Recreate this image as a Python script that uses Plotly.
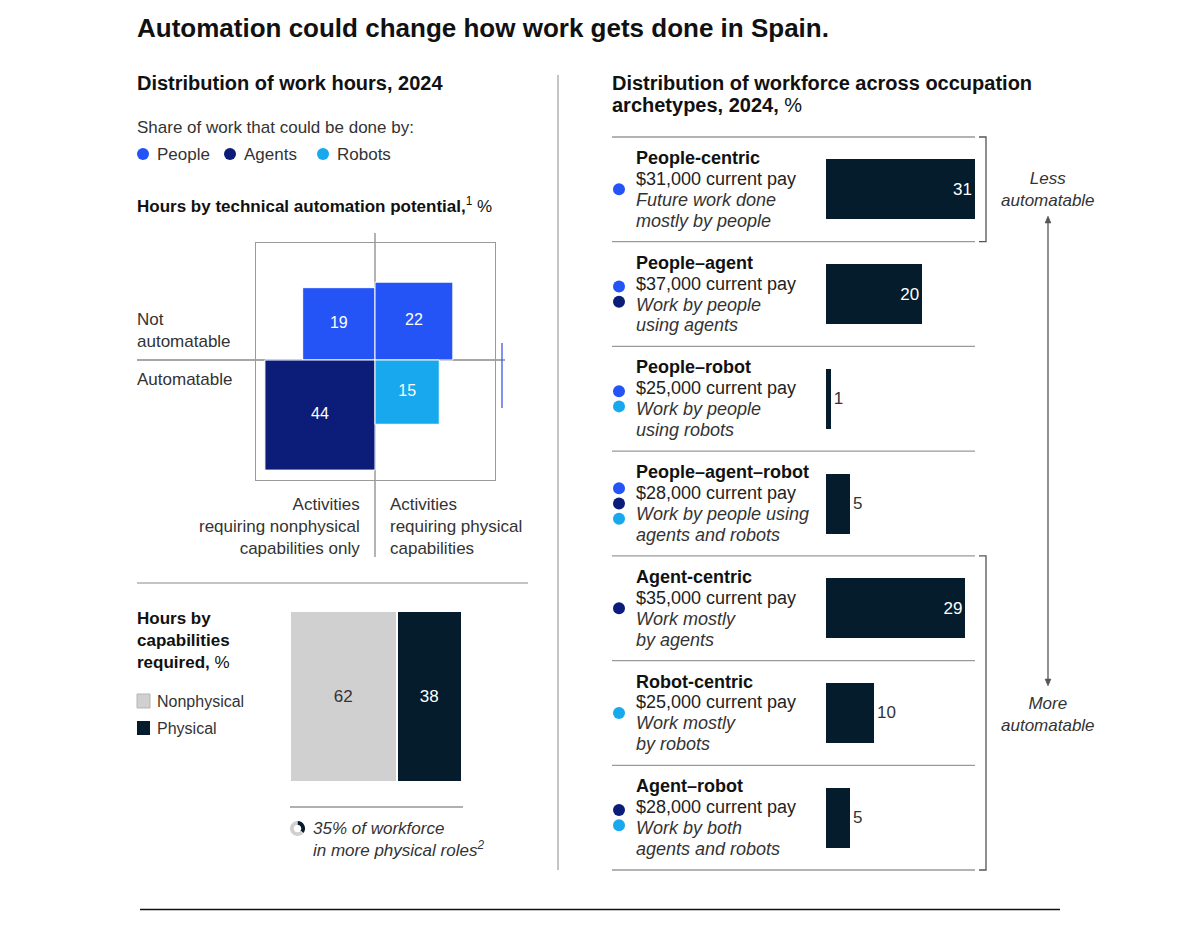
import math
import plotly.graph_objects as go

# ---- data ----
doer_colors = {"People": "#2454f5", "Agents": "#0b1d78", "Robots": "#17a8ee"}
legend_doers = ["People", "Agents", "Robots"]

# hours by technical automation potential, %
quad_values = [19, 22, 44, 15]
quad_capability = ["Nonphysical", "Physical", "Nonphysical", "Physical"]
quad_automation = ["Not automatable", "Not automatable", "Automatable", "Automatable"]
quad_doer = ["People", "People", "Agents", "Robots"]

# hours by capabilities required, %
capability_names = ["Nonphysical", "Physical"]
capability_shares = [62, 38]
physical_roles_share = 35

# workforce across occupation archetypes, %
archetypes = ["People-centric", "People–agent", "People–robot", "People–agent–robot",
              "Agent-centric", "Robot-centric", "Agent–robot"]
pay = ["$31,000", "$37,000", "$25,000", "$28,000", "$35,000", "$25,000", "$28,000"]
desc_1 = ["Future work done", "Work by people", "Work by people", "Work by people using",
          "Work mostly", "Work mostly", "Work by both"]
desc_2 = ["mostly by people", "using agents", "using robots", "agents and robots",
          "by agents", "by robots", "agents and robots"]
workforce_share = [31, 20, 1, 5, 29, 10, 5]
archetype_doers = [["People"], ["People", "Agents"], ["People", "Robots"],
                   ["People", "Agents", "Robots"], ["Agents"], ["Robots"],
                   ["Agents", "Robots"]]

# page body has an 8px margin, so the figure is sized to fit inside it
PAD = 8
W, H = 1200 - 2 * PAD, 935 - 2 * PAD
FONT = "Liberation Sans, Arial, sans-serif"
DARK = "#051c2c"
GRAY = "#d0d0d0"
LINE = "#a8a8a8"


def px(x):
    return (x - PAD) / W


def py(y):
    return 1 - (y - PAD) / H


fig = go.Figure()

# Quadrant squares: area proportional to value.
for v, cap, aut, doer in zip(quad_values, quad_capability, quad_automation, quad_doer):
    s = math.sqrt(v)
    sx = -1 if cap == "Nonphysical" else 1
    sy = 1 if aut == "Not automatable" else -1
    fig.add_trace(go.Scatter(
        x=[0, sx * s, sx * s, 0, 0], y=[0, 0, sy * s, sy * s, 0],
        fill="toself", fillcolor=doer_colors[doer], mode="lines",
        line=dict(color="white", width=1), xaxis="x", yaxis="y",
        hoverinfo="skip", showlegend=False))
    fig.add_trace(go.Scatter(
        x=[sx * s / 2], y=[sy * s / 2], mode="text", text=[str(v)],
        textfont=dict(family=FONT, size=16, color="white"),
        xaxis="x", yaxis="y", hoverinfo="skip", showlegend=False))

# Stacked bar of capabilities.
for name, share, color, tcolor in zip(capability_names, capability_shares,
                                      [GRAY, DARK], ["#333333", "white"]):
    fig.add_trace(go.Bar(
        x=[share], y=[0], orientation="h", width=1, name=name,
        marker=dict(color=color, line=dict(color="white", width=2)),
        text=[share], textposition="inside", insidetextanchor="middle",
        textfont=dict(family=FONT, size=17, color=tcolor),
        xaxis="x2", yaxis="y2", hoverinfo="skip", showlegend=False))

# Small donut icon.
fig.add_trace(go.Pie(
    values=[physical_roles_share, 100 - physical_roles_share],
    marker=dict(colors=[DARK, GRAY]), hole=0.5, sort=False,
    direction="clockwise", textinfo="none", hoverinfo="skip",
    showlegend=False, domain=dict(x=[px(290), px(305)], y=[py(836), py(821)])))

# Workforce bars.
rows = list(range(len(archetypes)))
fig.add_trace(go.Bar(
    x=workforce_share, y=rows, orientation="h", width=0.573,
    marker=dict(color=DARK, line=dict(width=0)),
    text=workforce_share,
    textposition=["inside" if v >= 15 else "outside" for v in workforce_share],
    insidetextanchor="end", cliponaxis=False,
    insidetextfont=dict(family=FONT, size=17, color="white"),
    outsidetextfont=dict(family=FONT, size=17, color="#333333"),
    xaxis="x3", yaxis="y3", hoverinfo="skip", showlegend=False))

# Doer dots per archetype.
dot_x, dot_y, dot_c = [], [], []
for i, doers in enumerate(archetype_doers):
    n = len(doers)
    for k, d in enumerate(doers):
        dot_x.append(0)
        dot_y.append(i + (k - (n - 1) / 2) * 0.145)
        dot_c.append(doer_colors[d])
fig.add_trace(go.Scatter(
    x=dot_x, y=dot_y, mode="markers", marker=dict(size=12, color=dot_c),
    xaxis="x4", yaxis="y3", hoverinfo="skip", showlegend=False))

# Row text.
for i in rows:
    lines = [("<b>%s</b>" % archetypes[i], "#111111"),
             ("%s current pay" % pay[i], "#222222"),
             ("<i>%s</i>" % desc_1[i], "#333333"),
             ("<i>%s</i>" % desc_2[i], "#333333")]
    for j, (txt, col) in enumerate(lines):
        fig.add_annotation(x=px(634), y=i + (j - 1.5) * 0.2, xref="paper", yref="y3",
                           text=txt, showarrow=False, xanchor="left", yanchor="middle",
                           font=dict(family=FONT, size=18, color=col))


def label(x, y, text, size=17, color="#333333", xanchor="left", align="left"):
    fig.add_annotation(x=px(x), y=py(y), xref="paper", yref="paper", text=text,
                       showarrow=False, xanchor=xanchor, yanchor="middle", align=align,
                       font=dict(family=FONT, size=size, color=color))


label(135, 28, "<b>Automation could change how work gets done in Spain.</b>", 26, "#111111")
label(135, 83, "<b>Distribution of work hours, 2024</b>", 20, "#111111")
label(135, 128, "Share of work that could be done by:", 17)
shapes = []
for d, x in zip(legend_doers, [143, 230, 323]):
    shapes.append(dict(type="circle", xref="paper", yref="paper", x0=px(x - 6), x1=px(x + 6),
                       y0=py(160), y1=py(148), fillcolor=doer_colors[d], line=dict(width=0)))
    label(x + 12, 154, d, 17)
label(135, 205, "<b>Hours by technical automation potential,</b><sup>1</sup> %", 17, "#111111")
label(135, 330, "Not<br>automatable", 17)
label(135, 379, "Automatable", 17)
label(362, 526, "Activities<br>requiring nonphysical<br>capabilities only", 17,
      xanchor="right", align="right")
label(388, 526, "Activities<br>requiring physical<br>capabilities", 17)
label(135, 640, "<b>Hours by<br>capabilities<br>required,</b> %", 17, "#111111")
label(155, 701, "Nonphysical", 16)
label(155, 728, "Physical", 16)
label(311, 839, "<i>%d%% of workforce<br>in more physical roles<sup>2</sup></i>"
      % physical_roles_share, 17)
label(610, 83, "<b>Distribution of workforce across occupation</b>", 20, "#111111")
label(610, 105, "<b>archetypes, 2024,</b> %", 20, "#111111")
label(1048, 190, "<i>Less<br>automatable</i>", 17, xanchor="center", align="center")
label(1048, 714, "<i>More<br>automatable</i>", 17, xanchor="center", align="center")


def hline(y, x0, x1, color=LINE, width=1.5, layer="above"):
    shapes.append(dict(type="line", xref="paper", yref="paper", x0=px(x0), x1=px(x1),
                       y0=py(y), y1=py(y), line=dict(color=color, width=width), layer=layer))


def vline(x, y0, y1, color=LINE, width=1.5, layer="above"):
    shapes.append(dict(type="line", xref="paper", yref="paper", x0=px(x), x1=px(x),
                       y0=py(y0), y1=py(y1), line=dict(color=color, width=width), layer=layer))


def tri(points, color):
    path = "M " + " L ".join("%f,%f" % (px(a), py(b)) for a, b in points) + " Z"
    shapes.append(dict(type="path", xref="paper", yref="paper", path=path,
                       fillcolor=color, line=dict(color=color, width=0.5)))


# double arrow between "Less" and "More automatable"
vline(1048, 221, 681, "#555555", 1.3)
tri([(1048, 216), (1045, 223), (1051, 223)], "#555555")
tri([(1048, 686), (1045, 679), (1051, 679)], "#555555")

# quadrant guides
vline(375, 233, 557, "#8a8a8a", 1.3, "below")
hline(360, 137, 505, "#8a8a8a", 1.3, "below")
vline(502, 343, 408, "#3b5ae0", 1.3)
# legend swatches
shapes.append(dict(type="rect", xref="paper", yref="paper", x0=px(137), x1=px(150),
                   y0=py(708), y1=py(694), fillcolor=GRAY, line=dict(color="#b5b5b5", width=1)))
shapes.append(dict(type="rect", xref="paper", yref="paper", x0=px(137), x1=px(150),
                   y0=py(735), y1=py(721), fillcolor=DARK, line=dict(width=0)))
# panel dividers
vline(558, 75, 870, "#b0b0b0", 1.5)
hline(583, 137, 528, "#b0b0b0", 1.5)
hline(807, 290, 463, "#b0b0b0", 2)
hline(909.5, 140, 1060, "#111111", 1.5)
# row separators
row_edges = [137 + (870 - 137) * k / len(archetypes) for k in range(len(archetypes) + 1)]
for y in row_edges:
    hline(y, 612, 975, "#9a9a9a", 1.3)
# brackets
for y0, y1 in [(row_edges[0], row_edges[1]), (row_edges[4], row_edges[7])]:
    shapes.append(dict(type="path", xref="paper", yref="paper",
                       path="M %f,%f L %f,%f L %f,%f L %f,%f" % (
                           px(979), py(y0), px(986), py(y0), px(986), py(y1), px(979), py(y1)),
                       line=dict(color="#555555", width=1.3)))

hidden = dict(visible=False, showgrid=False, zeroline=False, fixedrange=True)
fig.update_layout(
    width=W, height=H, margin=dict(l=0, r=0, t=0, b=0),
    paper_bgcolor="white", plot_bgcolor="rgba(0,0,0,0)",
    font=dict(family=FONT, color="#333333"),
    barmode="stack", showlegend=False, shapes=shapes,
    xaxis=dict(domain=[px(256), px(495)], range=[-7.17, 7.23], anchor="y",
               showline=True, mirror=True, linecolor="#9a9a9a", linewidth=1.3,
               showgrid=False, zeroline=False, showticklabels=False, ticks=""),
    yaxis=dict(domain=[py(480), py(243)], range=[-7.23, 7.05], anchor="x",
               showline=True, mirror=True, linecolor="#9a9a9a", linewidth=1.3,
               showgrid=False, zeroline=False, showticklabels=False, ticks=""),
    xaxis2=dict(domain=[px(290), px(462)], range=[0, 100], anchor="y2", **hidden),
    yaxis2=dict(domain=[py(782), py(611)], range=[-0.5, 0.5], anchor="x2", **hidden),
    xaxis3=dict(domain=[px(826), px(975)], range=[0, 31], anchor="y3", **hidden),
    yaxis3=dict(domain=[py(870), py(137)], range=[len(archetypes) - 0.5, -0.5],
                anchor="x3", **hidden),
    xaxis4=dict(domain=[px(612), px(626)], range=[-1, 1], anchor="y3", **hidden),
)

fig.write_html("out.html")
